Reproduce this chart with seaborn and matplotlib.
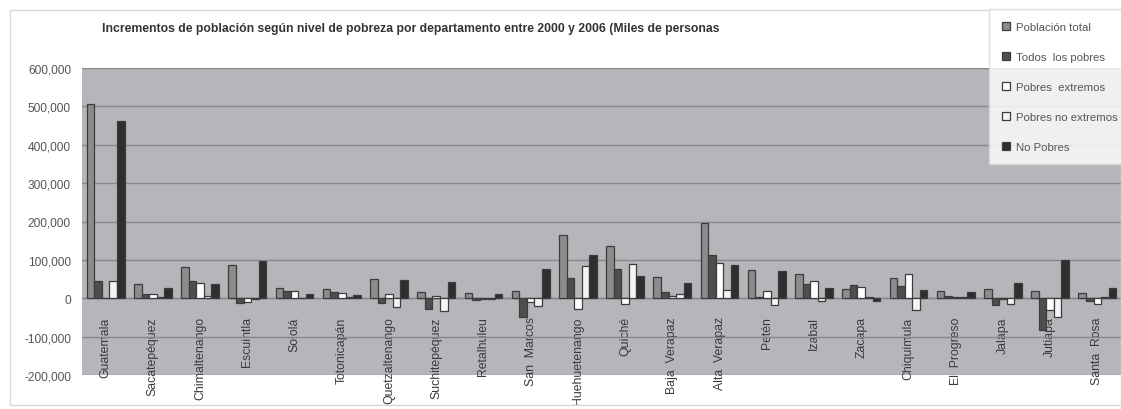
import matplotlib
matplotlib.use("Agg")
import matplotlib.pyplot as plt
from matplotlib.patches import Rectangle
from matplotlib.ticker import FuncFormatter, MultipleLocator
import numpy as np
import pandas as pd
import seaborn as sns

# Departamentos y series (miles de personas, incremento 2000-2006)
departamentos = ["Guatemala", "Sacatepéquez", "Chimaltenango", "Escuintla", "Sololá",
                 "Totonicapán", "Quetzaltenango", "Suchitepéquez", "Retalhuleu",
                 "San  Marcos", "Huehuetenango", "Quiché", "Baja  Verapaz",
                 "Alta  Verapaz", "Petén", "Izabal", "Zacapa", "Chiquimula",
                 "El  Progreso", "Jalapa", "Jutiapa", "Santa  Rosa"]
series = ["Población total", "Todos  los pobres", "Pobres  extremos",
          "Pobres no extremos", "No Pobres"]

poblacion_total = [507, 36, 82, 87, 27, 23, 50, 17, 13, 20, 165, 135, 55, 197, 74, 62, 25, 53, 20, 24, 18, 14]
todos_pobres = [45, 12, 45, -12, 19, 17, -12, -28, -4, -48, 52, 76, 15, 113, 3, 38, 35, 32, 5, -17, -82, -8]
pobres_extremos = [0, 10, 40, -9, 19, 14, 10, 5, -2, -10, -29, -14, 5, 91, 20, 45, 30, 62, 2, -3, -30, -14]
pobres_no_extremos = [45, 2, 6, -3, 1, 3, -24, -33, -2, -20, 84, 90, 10, 22, -17, -7, 4, -30, 2, -14, -48, 4]
no_pobres = [462, 27, 38, 97, 10, 9, 47, 43, 10, 75, 113, 59, 41, 87, 71, 28, -8, 21, 17, 41, 100, 28]

valores = [poblacion_total, todos_pobres, pobres_extremos, pobres_no_extremos, no_pobres]
df = pd.DataFrame({
    "departamento": np.tile(departamentos, len(series)),
    "serie": np.repeat(series, len(departamentos)),
    "incremento": np.concatenate([np.array(v) * 1000 for v in valores]),
})

colores = ["#8c8c8c", "#4e4e4e", "#ffffff", "#f4f4f4", "#2e2e2e"]

sns.set_style("white")
plt.rcParams["font.family"] = ["Liberation Sans", "DejaVu Sans"]

fig = plt.figure(figsize=(11.21, 4.10), dpi=100)
ax = fig.add_axes([82 / 1121, 1 - 376 / 410, 1 - 82 / 1121, (376 - 69) / 410])
ax.set_facecolor("#b5b6b9")

sns.barplot(data=df, x="departamento", y="incremento", hue="serie",
            order=departamentos, hue_order=series, palette=colores,
            edgecolor="#3c3c3c", linewidth=0.9, width=0.8, errorbar=None,
            ax=ax, zorder=3)

ax.set_xlim(-0.5, len(departamentos) - 0.5)
ax.set_ylim(-200000, 600000)
ax.yaxis.set_major_locator(MultipleLocator(100000))
ax.yaxis.set_major_formatter(FuncFormatter(lambda v, p: f"{int(v):,}"))
ax.grid(axis="y", color="#87888c", linewidth=1.0, zorder=1)
ax.set_axisbelow(True)

for side in ["top", "right", "left"]:
    ax.spines[side].set_visible(False)
ax.spines["bottom"].set_position(("data", 0))
ax.spines["bottom"].set_color("#87888c")
ax.spines["bottom"].set_linewidth(1.0)

ax.tick_params(axis="y", length=0, pad=8, labelsize=8.6, labelcolor="#555555")
ax.tick_params(axis="x", length=0, pad=13, labelsize=8.8, labelcolor="#3a3a3a")
plt.setp(ax.get_xticklabels(), rotation=90, va="top", ha="center")
ax.set_xlabel("")
ax.set_ylabel("")

handles, labels = ax.get_legend_handles_labels()
if ax.get_legend() is not None:
    ax.get_legend().remove()
leg = fig.legend(handles, labels, loc="upper left", bbox_to_anchor=(989 / 1121, 1 - 10 / 410),
                 bbox_transform=fig.transFigure, frameon=True, fancybox=False,
                 fontsize=8.2, labelspacing=1.75, handlelength=0.75, handleheight=0.75,
                 handletextpad=0.5, borderpad=1.1, borderaxespad=0)
leg.get_frame().set_edgecolor("#d6d6d6")
leg.get_frame().set_linewidth(1.0)
for t in leg.get_texts():
    t.set_color("#555555")

fig.text(102 / 1121, 1 - 29 / 410,
         "Incrementos de población según nivel de pobreza por departamento entre 2000 y 2006 (Miles de personas",
         fontsize=8.8, fontweight="bold", color="#333333", va="center", ha="left")

# outer chart frame
fig.patches.append(Rectangle((10 / 1121, 1 - 406 / 410), 1 - 10 / 1121, (406 - 11) / 410,
                             transform=fig.transFigure, fill=False,
                             edgecolor="#d8d8d8", linewidth=1.0, zorder=0))

fig.savefig("out.png", dpi=100)
